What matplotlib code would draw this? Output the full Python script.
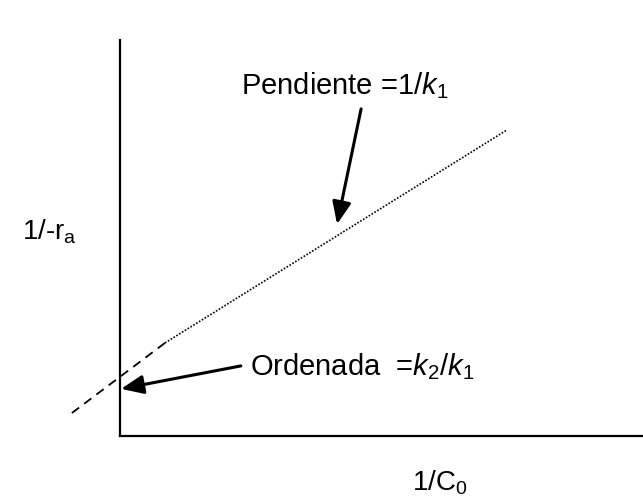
import matplotlib
matplotlib.use("Agg")
import matplotlib.pyplot as plt

plt.rcParams['font.family'] = ['Liberation Sans', 'DejaVu Sans']
plt.rcParams['mathtext.fontset'] = 'custom'
plt.rcParams['mathtext.rm'] = 'Liberation Sans'
plt.rcParams['mathtext.it'] = 'Liberation Sans:italic'

# linear fit region (dotted) and extrapolation to the y axis (dashed)
fit_x = [0.86, 7.40]
fit_y = [2.35, 7.73]
extrap_x = [-0.92, 0.86]
extrap_y = [0.58, 2.35]

slope_label = "Pendiente =1/$k_1$"
intercept_label = "Ordenada  =$k_2$/$k_1$"

fig = plt.figure(figsize=(6.43, 4.98), dpi=100)
ax = fig.add_axes([120/643, 62/498, 523/643, 396/498])
ax.set_xlim(0, 10)
ax.set_ylim(0, 10)

ax.plot(fit_x, fit_y, color="black", linestyle=(0, (1, 1)), linewidth=1.2, clip_on=False)
ax.plot(extrap_x, extrap_y, color="black", linestyle=(0, (5, 3.5)), linewidth=1.3, clip_on=False)

arrow = dict(arrowstyle="-|>,head_length=0.9,head_width=0.38", color="black",
             lw=2.2, shrinkA=0, shrinkB=0, mutation_scale=15)

# slope annotation
ax.text(4.30, 8.84, slope_label, fontsize=21, ha="center", va="center")
ax.annotate("", xy=(4.15, 5.35), xytext=(4.61, 8.26), arrowprops=arrow)

# intercept annotation
ax.text(2.49, 1.74, intercept_label, fontsize=21, ha="left", va="center")
ax.annotate("", xy=(0.02, 1.19), xytext=(2.31, 1.77), arrowprops=arrow)

ax.spines['top'].set_visible(False)
ax.spines['right'].set_visible(False)
ax.spines['left'].set_linewidth(1.6)
ax.spines['bottom'].set_linewidth(1.6)
ax.set_xticks([])
ax.set_yticks([])

fig.text(22/643, 1 - 232/498, "1/-r$_\\mathrm{a}$", fontsize=20, ha="left", va="center")
fig.text(440/643, 1 - 483/498, "1/C$_\\mathrm{0}$", fontsize=20, ha="center", va="center")

fig.savefig("out.png", dpi=100)
